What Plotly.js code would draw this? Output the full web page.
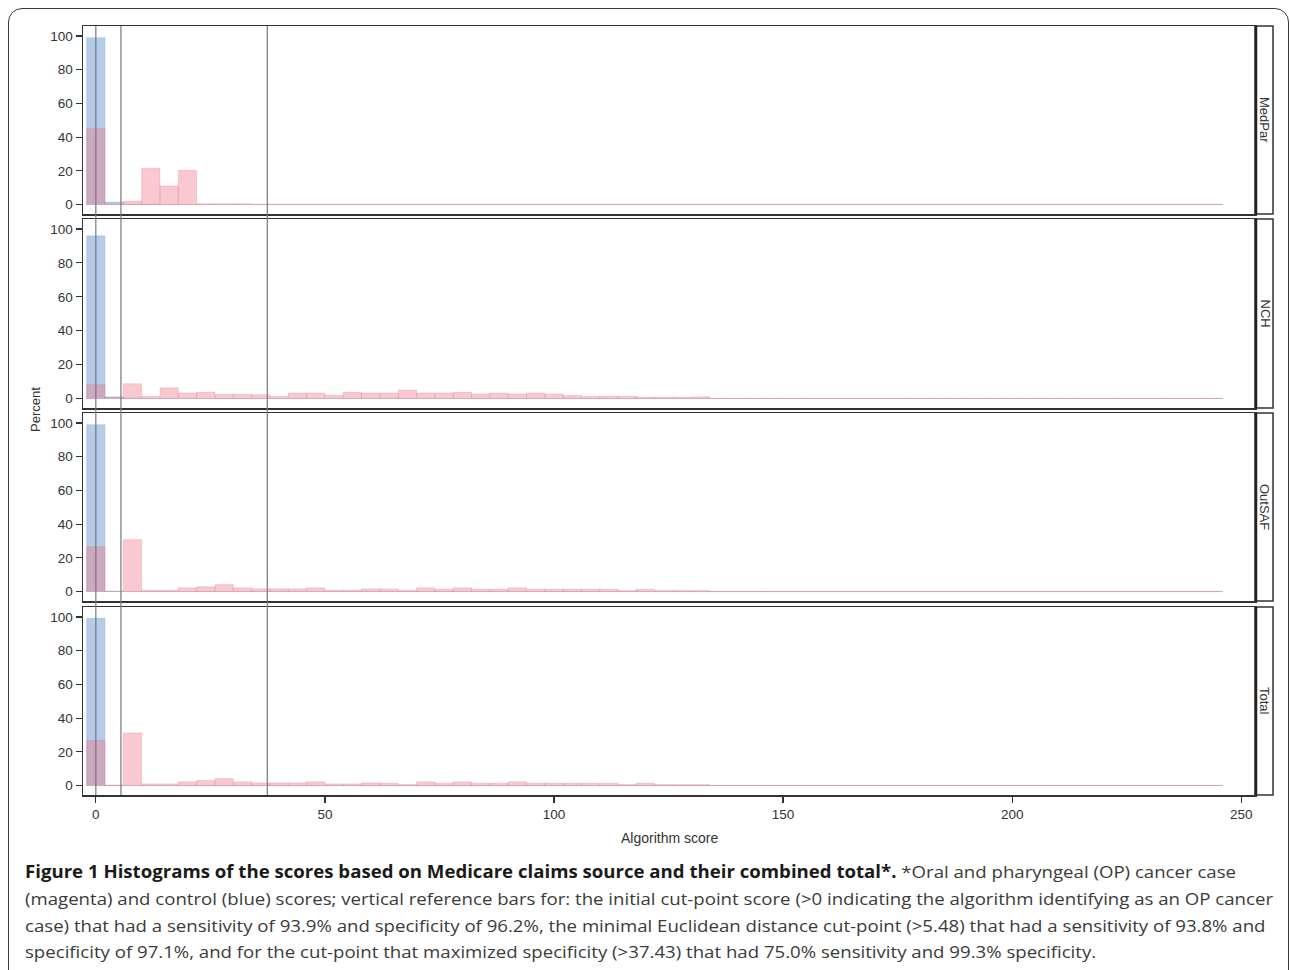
<!DOCTYPE html>
<html>
<head>
<meta charset="utf-8">
<script src="https://cdn.plot.ly/plotly-3.0.1.min.js"></script>
<style>
  html, body { margin:0; padding:0; background:#fff; width:1290px; height:970px; overflow:hidden; }
  #chart { position:absolute; left:0; top:0; width:1290px; height:970px; }
  #frame { position:absolute; left:8px; top:8px; width:1279px; height:975px; border:1.5px solid #3a3a3a; border-radius:14px; pointer-events:none; }
  .cap { position:absolute; left:25px; white-space:nowrap; font-family:"Open Sans", "Noto Sans", sans-serif; font-size:17px; line-height:20px; color:#3a3a3a; transform-origin:0 50%; }
  .cap b { color:#1a1a1a; }
</style>
</head>
<body>
<div id="chart"></div>
<div id="frame"></div>
<div class="cap" id="c1" style="top:862px"><b>Figure 1 Histograms of the scores based on Medicare claims source and their combined total*.</b> *Oral and pharyngeal (OP) cancer case</div>
<div class="cap" id="c2" style="top:889px">(magenta) and control (blue) scores; vertical reference bars for: the initial cut-point score (&gt;0 indicating the algorithm identifying as an OP cancer</div>
<div class="cap" id="c3" style="top:916px">case) that had a sensitivity of 93.9% and specificity of 96.2%, the minimal Euclidean distance cut-point (&gt;5.48) that had a sensitivity of 93.8% and</div>
<div class="cap" id="c4" style="top:942px">specificity of 97.1%, and for the cut-point that maximized specificity (&gt;37.43) that had 75.0% sensitivity and 99.3% specificity.</div>
<script>
// ---- data ----
const binCenters = [0,4,8,12,16,20,24,28,32,36,40,44,48,52,56,60,64,68,72,76,80,84,88,92,96,100,104,108,112,116,120,124,128,132,136,140,144,148,152,156,160,164,168,172,176,180,184,188,192,196,200,204,208,212,216,220,224,228,232,236,240,244];
const panelNames = ["MedPar", "NCH", "OutSAF", "Total"];
const refCutPoints = [0, 5.48, 37.43];
const yTicks = [0, 20, 40, 60, 80, 100];
const xTicks = [0, 50, 100, 150, 200, 250];

const medparControl = [99,1.5,0.3,0.2,0,0,0,0,0,0,0,0,0,0,0,0,0,0,0,0,0,0,0,0,0,0,0,0,0,0,0,0,0,0,0,0,0,0,0,0,0,0,0,0,0,0,0,0,0,0,0,0,0,0,0,0,0,0,0,0,0,0];
const medparCase = [45,0.3,2,21.5,11,20.3,0.5,0.5,0.5,0.15,0.15,0.15,0.15,0.15,0.15,0.15,0.15,0.15,0.15,0.15,0.15,0.15,0.15,0.15,0.15,0.15,0.15,0.15,0.15,0.15,0.15,0.15,0.15,0.15,0.15,0.15,0.15,0.15,0.15,0.15,0.15,0.15,0.15,0.15,0.15,0.15,0.15,0.15,0.15,0.15,0.15,0.15,0.15,0.15,0.15,0.15,0.15,0.15,0.15,0.15,0.15,0.15];

const nchControl = [96,1,0.3,0,0,0,0,0,0,0,0,0,0,0,0,0,0,0,0,0,0,0,0,0,0,0,0,0,0,0,0,0,0,0,0,0,0,0,0,0,0,0,0,0,0,0,0,0,0,0,0,0,0,0,0,0,0,0,0,0,0,0];
const nchCase = [8.1,0.5,8.7,1.2,6.3,3.2,3.7,2.4,2.4,2.2,1.2,3.2,3.2,1.8,3.7,3.2,3.2,5.0,3.2,3.2,3.7,2.6,3.2,2.6,3.2,2.6,1.8,1.2,1.4,1.4,0.8,0.8,0.8,1.0,0.15,0.15,0.15,0.15,0.15,0.15,0.15,0.15,0.15,0.15,0.15,0.15,0.15,0.15,0.15,0.15,0.15,0.15,0.15,0.15,0.15,0.15,0.15,0.15,0.15,0.15,0.15,0.15];

const outsafControl = [99,0.2,0,0,0,0,0,0,0,0,0,0,0,0,0,0,0,0,0,0,0,0,0,0,0,0,0,0,0,0,0,0,0,0,0,0,0,0,0,0,0,0,0,0,0,0,0,0,0,0,0,0,0,0,0,0,0,0,0,0,0,0];
const outsafCase = [26.6,0.15,30.8,0.8,0.8,2.2,2.8,4.1,2.2,1.6,1.6,1.6,2.2,0.8,0.8,1.6,1.5,0.7,2.2,1.4,2.2,1.4,1.4,2.2,1.4,1.4,1.4,1.4,1.4,0.6,1.4,0.6,0.6,0.6,0.15,0.15,0.15,0.15,0.15,0.15,0.15,0.15,0.15,0.15,0.15,0.15,0.15,0.15,0.15,0.15,0.15,0.15,0.15,0.15,0.15,0.15,0.15,0.15,0.15,0.15,0.15,0.15];

const totalControl = [99.3,0.2,0,0,0,0,0,0,0,0,0,0,0,0,0,0,0,0,0,0,0,0,0,0,0,0,0,0,0,0,0,0,0,0,0,0,0,0,0,0,0,0,0,0,0,0,0,0,0,0,0,0,0,0,0,0,0,0,0,0,0,0];
const totalCase = [26.8,0.15,31.2,1.0,1.0,2.2,3.0,4.1,2.2,1.6,1.6,1.6,2.2,1.0,1.0,1.6,1.4,0.6,2.2,1.4,2.2,1.4,1.4,2.2,1.4,1.4,1.4,1.4,1.4,0.6,1.4,0.6,0.6,0.6,0.15,0.15,0.15,0.15,0.15,0.15,0.15,0.15,0.15,0.15,0.15,0.15,0.15,0.15,0.15,0.15,0.15,0.15,0.15,0.15,0.15,0.15,0.15,0.15,0.15,0.15,0.15,0.15];

const controls = [medparControl, nchControl, outsafControl, totalControl];
const cases = [medparCase, nchCase, outsafCase, totalCase];

// ---- layout helpers (pixel geometry of the page) ----
const W = 1290, H = 970;
const plotLeft = 83, plotRight = 1255, stripRight = 1273;
const panelPx = [[26, 214], [219, 408], [413, 601], [607, 795]];
const px2x = p => p / W;
const px2y = p => 1 - p / H;
const FAM = '"Liberation Sans", Arial, sans-serif';
const TICKFONT = {family: FAM, size: 13.5, color: '#333'};
const LABELFONT = {family: FAM, size: 13, color: '#333'};

const traces = [];
const layout = {
  width: W, height: H,
  margin: {l: 0, r: 0, t: 0, b: 0},
  paper_bgcolor: 'rgba(0,0,0,0)', plot_bgcolor: '#fff',
  barmode: 'overlay', bargap: 0, showlegend: false,
  font: LABELFONT,
  shapes: [], annotations: []
};

panelNames.forEach((name, i) => {
  const k = i === 0 ? '' : String(i + 1);
  traces.push({
    type: 'bar', x: binCenters, y: controls[i], xaxis: 'x' + k, yaxis: 'y' + k,
    marker: {color: 'rgba(110,152,208,0.5)', line: {color: 'rgba(110,152,208,0.3)', width: 0.8}},
    hoverinfo: 'skip'
  });
  traces.push({
    type: 'bar', x: binCenters, y: cases[i], xaxis: 'x' + k, yaxis: 'y' + k,
    marker: {color: 'rgba(240,112,130,0.38)', line: {color: 'rgba(230,120,140,0.35)', width: 0.8}},
    hoverinfo: 'skip'
  });
  const isBottom = i === panelNames.length - 1;
  layout['xaxis' + k] = {
    domain: [px2x(plotLeft), px2x(plotRight)],
    anchor: 'y' + k,
    range: [-2.8, 253],
    matches: i === 0 ? undefined : 'x',
    showline: true, mirror: true, linecolor: '#333', linewidth: 1.5,
    showgrid: false, zeroline: false,
    tickvals: xTicks,
    ticks: isBottom ? 'outside' : '', ticklen: 6, tickcolor: '#333', tickwidth: 1.2,
    showticklabels: isBottom, tickfont: TICKFONT,
    automargin: false, fixedrange: true
  };
  const [top, bot] = panelPx[i];
  layout['yaxis' + k] = {
    domain: [px2y(bot), px2y(top)],
    anchor: 'x' + k,
    range: [-5.6, 105.9],
    showline: true, mirror: true, linecolor: '#333', linewidth: 1.5,
    showgrid: false, zeroline: false,
    tickvals: yTicks, ticks: 'outside', ticklen: 6, tickcolor: '#333', tickwidth: 1.2,
    tickfont: TICKFONT, automargin: false, fixedrange: true
  };
  // strip box on the right
  layout.shapes.push({type: 'rect', xref: 'paper', yref: 'paper',
    x0: px2x(plotRight), x1: px2x(stripRight), y0: px2y(bot), y1: px2y(top),
    line: {color: '#333', width: 1.5}, fillcolor: 'rgba(0,0,0,0)'});
  layout.shapes.push({type: 'line', xref: 'paper', yref: 'paper',
    x0: px2x(plotRight + 1), x1: px2x(plotRight + 1), y0: px2y(bot), y1: px2y(top),
    line: {color: '#222', width: 2.5}});
  layout.annotations.push({xref: 'paper', yref: 'paper', x: px2x((plotRight + stripRight) / 2 + 1), y: px2y((top + bot) / 2),
    text: name, showarrow: false, textangle: 90, font: LABELFONT, xanchor: 'center', yanchor: 'middle'});
});

// reference cut-point lines spanning all panels
refCutPoints.forEach(v => {
  layout.shapes.push({type: 'line', xref: 'x4', yref: 'paper', x0: v, x1: v,
    y0: px2y(panelPx[3][1]), y1: px2y(panelPx[0][0]),
    line: {color: '#777', width: 1.2}, layer: 'above'});
});

layout.annotations.push({xref: 'paper', yref: 'paper', x: px2x(35), y: px2y(410), text: 'Percent',
  showarrow: false, textangle: -90, font: LABELFONT, xanchor: 'center', yanchor: 'middle'});
layout.annotations.push({xref: 'paper', yref: 'paper', x: px2x(669), y: px2y(838), text: 'Algorithm score',
  showarrow: false, font: {family: FAM, size: 14, color: '#333'}, xanchor: 'center', yanchor: 'middle'});

Plotly.newPlot('chart', traces, layout, {staticPlot: true, displayModeBar: false}).then(() => {
  // fit caption lines to the original text block width
  const ref = document.getElementById('c2');
  const s = 1248 / ref.getBoundingClientRect().width;
  ['c1','c2','c3','c4'].forEach(id => {
    document.getElementById(id).style.transform = 'scaleX(' + s + ')';
  });
});
</script>
</body>
</html>
